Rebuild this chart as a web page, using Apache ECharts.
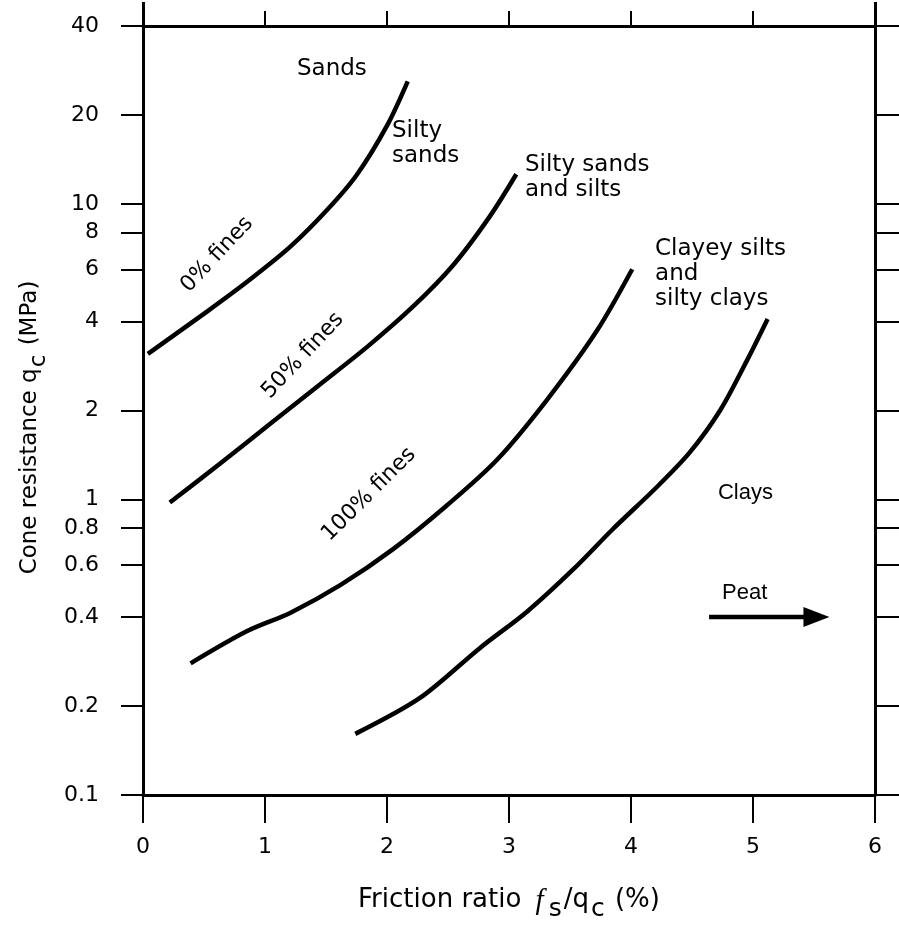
<!DOCTYPE html>
<html><head><meta charset="utf-8">
<script src="https://cdn.jsdelivr.net/npm/echarts@6/dist/echarts.min.js"></script>
<style>html,body{margin:0;padding:0;background:#fff}#c{width:899px;height:929px}</style>
</head><body><div id="c"></div>
<script>
// ---- data ----
const xTicks = [0, 1, 2, 3, 4, 5, 6];
const yTicks = [0.1, 0.2, 0.4, 0.6, 0.8, 1, 2, 4, 6, 8, 10, 20, 40];
const fines0 = [[0.04,3.11],[0.53,4.34],[0.88,5.56],[1.21,7.18],[1.51,9.55],[1.75,12.5],[2.0,18.4],[2.17,26.0]];
const fines50 = [[0.22,0.977],[0.63,1.32],[1.04,1.80],[1.45,2.45],[1.84,3.29],[2.21,4.48],[2.54,6.19],[2.84,9.04],[3.06,12.6]];
const fines100 = [[0.39,0.279],[0.85,0.358],[1.21,0.414],[1.62,0.514],[2.05,0.679],[2.49,0.954],[2.90,1.36],[3.31,2.17],[3.72,3.72],[4.01,6.01]];
const clayBoundary = [[1.74,0.161],[2.27,0.213],[2.76,0.314],[3.15,0.418],[3.53,0.582],[3.85,0.793],[4.21,1.10],[4.48,1.44],[4.73,2.0],[4.95,2.95],[5.12,4.08]];
const peatArrow = [[4.64,0.4],[5.52,0.4]];
const zoneNames = ['Sands', 'Silty\nsands', 'Silty sands\nand silts', 'Clayey silts\nand\nsilty clays', 'Clays', 'Peat'];
const zoneX = [1.262, 2.041, 3.131, 4.197, 4.713, 4.746];
const zoneY = [28.5, 16.0, 12.25, 5.78, 1.05, 0.484];
const curveNames = ['0% fines', '50% fines', '100% fines'];
const curveLabelX = [0.607, 1.311, 1.852];
const curveLabelY = [6.74, 3.07, 1.04];

// ---- chart ----
const FONT = 'DejaVu Sans';
const lineSeries = (name, data) => ({
  name, type: 'line', data, smooth: 0.3, showSymbol: false, silent: true,
  lineStyle: { color: '#000', width: 4.5, cap: 'butt' }, itemStyle: { color: '#000' }, z: 5
});

const zoneData = zoneNames.map((n, i) => {
  const narrow = (n === 'Clays' || n === 'Peat');
  return {
    value: [zoneX[i], zoneY[i]], name: n,
    label: {
      fontFamily: narrow ? 'Liberation Sans' : FONT,
      fontSize: narrow ? 22 : 23,
      lineHeight: 25
    }
  };
});
const curveLabelData = curveNames.map((n, i) => ({
  value: [curveLabelX[i], curveLabelY[i]], name: n,
  label: { rotate: i === 2 ? 45 : 47 }
}));

const option = {
  animation: false,
  backgroundColor: '#fff',
  grid: { left: 143, right: 24, top: 26, bottom: 134, containLabel: false },
  xAxis: [
    {
      type: 'value', min: 0, max: 6, interval: 1, position: 'bottom',
      axisLine: { show: true, onZero: false, lineStyle: { color: '#000', width: 3 } },
      axisTick: { show: true, inside: false, length: 28, lineStyle: { color: '#000', width: 2 } },
      axisLabel: { margin: 41, fontSize: 22, color: '#000', fontFamily: FONT },
      splitLine: { show: false },
      name: '{t|Friction ratio }{i|f}{sub|s}{t|/q}{sub|c}{t| (%)}',
      nameLocation: 'middle', nameGap: 92,
      nameTextStyle: {
        rich: {
          t: { fontSize: 26, fontFamily: FONT, color: '#000', verticalAlign: 'top' },
          i: { fontSize: 29, fontFamily: 'Liberation Serif', fontStyle: 'italic', color: '#000', verticalAlign: 'top', padding: [0, 3, 0, 6] },
          sub: { fontSize: 25, fontFamily: FONT, color: '#000', verticalAlign: 'top', padding: [10, 2, 0, 2] }
        }
      }
    },
    {
      type: 'value', min: 0, max: 6, interval: 1, position: 'top',
      axisLine: { show: true, onZero: false, lineStyle: { color: '#000', width: 3 } },
      axisTick: { show: true, inside: false, length: 15, lineStyle: { color: '#000', width: 2 } },
      axisLabel: { show: false }, splitLine: { show: false }
    },
    {
      type: 'value', min: 0, max: 6, interval: 1, position: 'top',
      axisLine: { show: false },
      axisTick: { show: true, inside: false, length: 24, customValues: [0, 6], lineStyle: { color: '#000', width: 3 } },
      axisLabel: { show: false }, splitLine: { show: false }
    }
  ],
  yAxis: [
    {
      type: 'log', logBase: 10, min: 0.1, max: 40, position: 'left',
      axisLine: { show: true, onZero: false, lineStyle: { color: '#000', width: 3 } },
      axisTick: { show: true, inside: false, length: 22, customValues: yTicks, lineStyle: { color: '#000', width: 2 } },
      minorTick: { show: false },
      axisLabel: { customValues: yTicks, margin: 44, fontSize: 22, color: '#000', fontFamily: FONT,
        formatter: v => String(v) },
      splitLine: { show: false },
      name: '{t|Cone resistance q}{sub|c}{t| (MPa)}',
      nameLocation: 'middle', nameRotate: 90, nameGap: 92,
      nameTextStyle: {
        padding: [0, 34, 0, 0],
        rich: {
          t: { fontSize: 23, fontFamily: FONT, color: '#000', verticalAlign: 'top' },
          sub: { fontSize: 23, fontFamily: FONT, color: '#000', verticalAlign: 'top', padding: [9, 2, 0, 1] }
        }
      }
    },
    {
      type: 'log', logBase: 10, min: 0.1, max: 40, position: 'right',
      axisLine: { show: true, onZero: false, lineStyle: { color: '#000', width: 3 } },
      axisTick: { show: true, inside: false, length: 26, customValues: yTicks, lineStyle: { color: '#000', width: 2 } },
      minorTick: { show: false },
      axisLabel: { show: false }, splitLine: { show: false }
    }
  ],
  series: [
    lineSeries('0% fines', fines0),
    lineSeries('50% fines', fines50),
    lineSeries('100% fines', fines100),
    lineSeries('Clays boundary', clayBoundary),
    {
      name: 'Peat', type: 'line', silent: true, z: 5,
      data: [
        { value: peatArrow[0], symbol: 'none' },
        { value: peatArrow[1], symbol: 'triangle', symbolSize: [20, 26], symbolRotate: -90 }
      ],
      showSymbol: true, lineStyle: { color: '#000', width: 4.5 }, itemStyle: { color: '#000', opacity: 1 }
    },
    {
      name: 'zones', type: 'scatter', symbolSize: 0, silent: true, data: zoneData,
      itemStyle: { color: '#000', opacity: 1 },
      label: { show: true, position: 'inside', align: 'left', verticalAlign: 'middle', opacity: 1,
        color: '#000', textBorderWidth: 0, textBorderColor: 'transparent', formatter: p => p.name }
    },
    {
      name: 'curveLabels', type: 'scatter', symbolSize: 0, silent: true, data: curveLabelData,
      itemStyle: { color: '#000', opacity: 1 },
      label: { show: true, position: 'inside', align: 'center', verticalAlign: 'middle', opacity: 1,
        color: '#000', textBorderWidth: 0, textBorderColor: 'transparent',
        fontFamily: FONT, fontSize: 22, formatter: p => p.name }
    }
  ]
};
const chart = echarts.init(document.getElementById('c'), null, { renderer: 'canvas' });
chart.setOption(option);
</script>
</body></html>
